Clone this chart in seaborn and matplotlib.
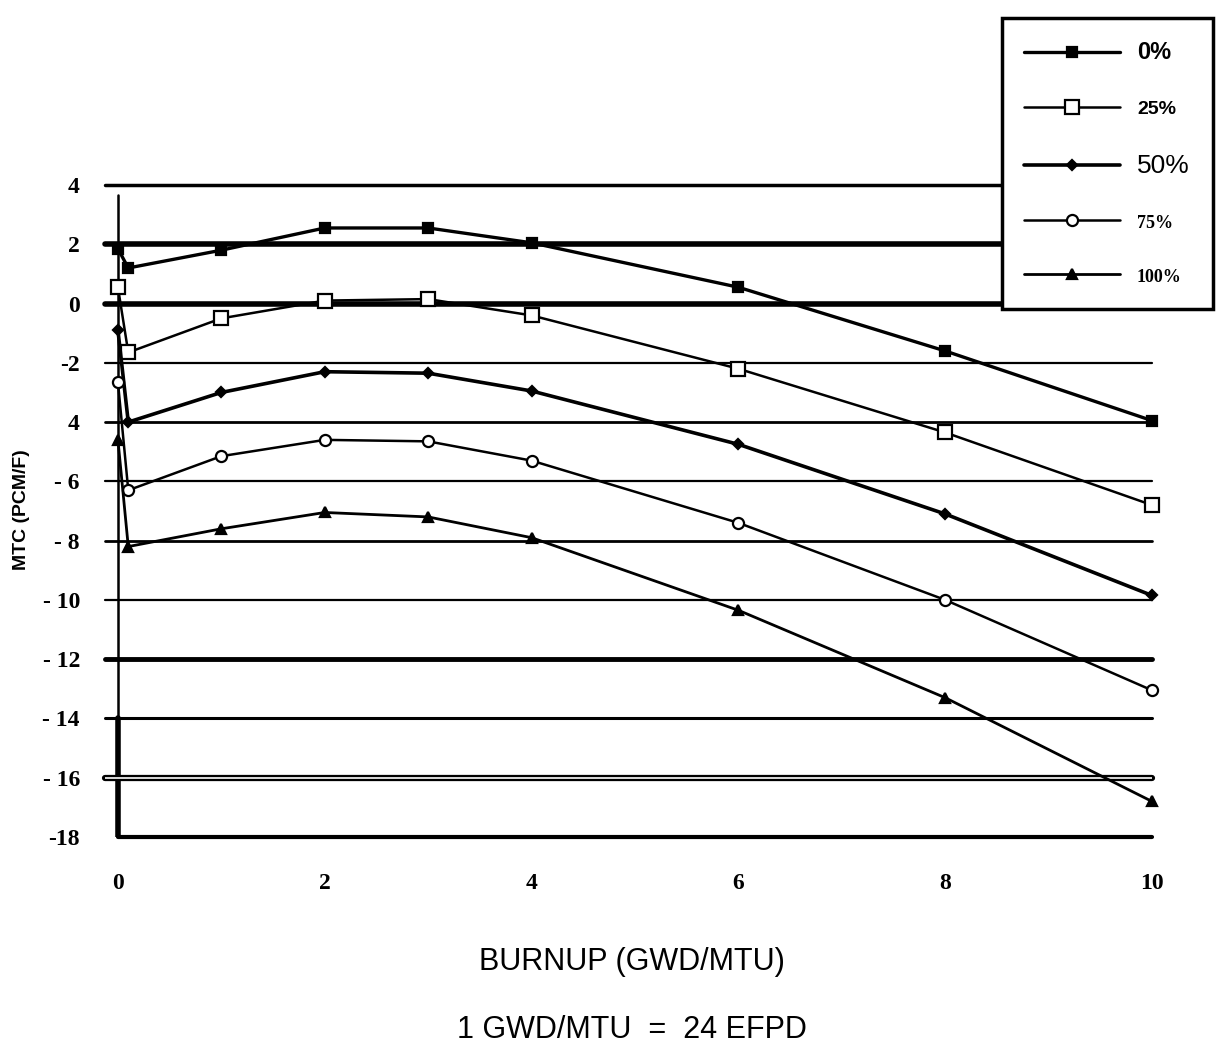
import pandas as pd
import matplotlib
matplotlib.use("Agg")
import matplotlib.pyplot as plt
import seaborn as sns

# Data
burnup = [0, 0.1, 1, 2, 3, 4, 6, 8, 10]
mtc_0 = [1.85, 1.2, 1.8, 2.55, 2.55, 2.05, 0.55, -1.6, -3.95]
mtc_25 = [0.55, -1.65, -0.5, 0.1, 0.15, -0.4, -2.2, -4.35, -6.8]
mtc_50 = [-0.9, -4.0, -3.0, -2.3, -2.35, -2.95, -4.75, -7.1, -9.85]
mtc_75 = [-2.65, -6.3, -5.15, -4.6, -4.65, -5.3, -7.4, -10.0, -13.05]
mtc_100 = [-4.6, -8.2, -7.6, -7.05, -7.2, -7.9, -10.35, -13.3, -16.8]
series_labels = ["0%", "25%", "50%", "75%", "100%"]

y_ticks = [4, 2, 0, -2, -4, -6, -8, -10, -12, -14, -16, -18]
y_tick_labels = ["4", "2", "0", "-2", "4", "- 6", "- 8", "- 10", "- 12", "- 14", "- 16", "-18"]
x_ticks = [0, 2, 4, 6, 8, 10]
x_tick_labels = ["0", "2", "4", "6", "8", "10"]

# gridline widths (scanned chart has uneven rules)
grid_widths = [2.5, 4.0, 4.0, 1.6, 2.0, 1.6, 2.0, 1.6, 3.5, 2.2, 4.5, 3.0]

df = pd.DataFrame({
    "burnup": burnup * 5,
    "mtc": mtc_0 + mtc_25 + mtc_50 + mtc_75 + mtc_100,
    "power": sum([[lab] * len(burnup) for lab in series_labels], []),
})

styles = {
    "0%": dict(marker="s", lw=2.4, ms=7, mfc="black"),
    "25%": dict(marker="s", lw=1.8, ms=10, mfc="white"),
    "50%": dict(marker="D", lw=2.6, ms=5, mfc="black"),
    "75%": dict(marker="o", lw=1.8, ms=8, mfc="white"),
    "100%": dict(marker="^", lw=2.0, ms=7, mfc="black"),
}

sns.set_theme(style="white")
plt.rcParams["font.family"] = ["DejaVu Sans"]
plt.rcParams["text.color"] = "black"
plt.rcParams["xtick.labelcolor"] = "black"
plt.rcParams["ytick.labelcolor"] = "black"

fig = plt.figure(figsize=(12.23, 10.47), dpi=100)
ax = fig.add_axes([105 / 1223, 210 / 1047, 1047 / 1223, 652 / 1047])

x_left = -0.125
for yv, w in zip(y_ticks, grid_widths):
    # bottom rule starts at the y axis, the others stick out a little
    start = (0 - x_left) / (10 - x_left) if yv == -18 else 0
    ax.axhline(yv, xmin=start, color="black", lw=w, zorder=1, clip_on=False)
ax.axhline(-16, color="white", lw=1.2, zorder=1.5)
ax.axvline(0, ymin=0, ymax=0.985, color="black", lw=1.8, zorder=1)
ax.axvline(0, ymin=0, ymax=4 / 22, color="black", lw=4, zorder=1)

for lab in series_labels:
    st = styles[lab]
    sub = df[df["power"] == lab]
    sns.lineplot(data=sub, x="burnup", y="mtc", ax=ax, color="black",
                 lw=st["lw"], marker=st["marker"], markersize=st["ms"],
                 markerfacecolor=st["mfc"], markeredgecolor="black",
                 markeredgewidth=1.6, label=lab, clip_on=False, zorder=3)

ax.set_xlim(x_left, 10.0)
ax.set_ylim(-18, 4)
for s in ax.spines.values():
    s.set_visible(False)

ax.set_yticks(y_ticks, labels=y_tick_labels)
ax.set_xticks(x_ticks, labels=x_tick_labels)
ax.tick_params(axis="y", length=0, pad=18)
ax.tick_params(axis="x", length=0, pad=26)
for t in ax.get_yticklabels() + ax.get_xticklabels():
    t.set_fontfamily(["Liberation Serif", "DejaVu Serif"])
    t.set_fontweight("bold")
    t.set_fontsize(17)
    t.set_color("black")
ax.set_xlabel("")
ax.set_ylabel("")
ax.grid(False)

fig.text(22 / 1223, 1 - 510 / 1047, "MTC (PCM/F)", rotation=90, ha="center",
         va="center", fontsize=14, fontweight="bold", color="black",
         family=["Liberation Sans", "DejaVu Sans"])
fig.text(632 / 1223, 1 - 962 / 1047, "BURNUP (GWD/MTU)", ha="center", va="center",
         fontsize=22, color="black", family=["Liberation Sans", "DejaVu Sans"])
fig.text(632 / 1223, 1 - 1030 / 1047, "1 GWD/MTU  =  24 EFPD", ha="center",
         va="center", fontsize=22, color="black",
         family=["Liberation Sans", "DejaVu Sans"])

leg = ax.legend(loc="upper right", bbox_to_anchor=(1223 / 1223, 1 - 8 / 1047),
                bbox_transform=fig.transFigure, frameon=True, fancybox=False,
                framealpha=1, edgecolor="black", fontsize=15, labelspacing=1.7,
                borderpad=1.1, handlelength=4.6, handletextpad=0.8)
leg.get_frame().set_linewidth(2.5)
leg.set_zorder(5)
text_styles = [
    dict(size=17, weight="bold", family="Liberation Sans"),
    dict(size=14, weight="bold", family="Liberation Sans"),
    dict(size=19, weight="normal", family="Liberation Sans"),
    dict(size=13, weight="bold", family="Liberation Serif"),
    dict(size=13, weight="bold", family="Liberation Serif"),
]
for t, ts in zip(leg.get_texts(), text_styles):
    t.set_fontsize(ts["size"])
    t.set_fontweight(ts["weight"])
    t.set_fontfamily([ts["family"], "DejaVu Sans"])
    t.set_color("black")

fig.savefig("out.png", dpi=100, facecolor="white")
